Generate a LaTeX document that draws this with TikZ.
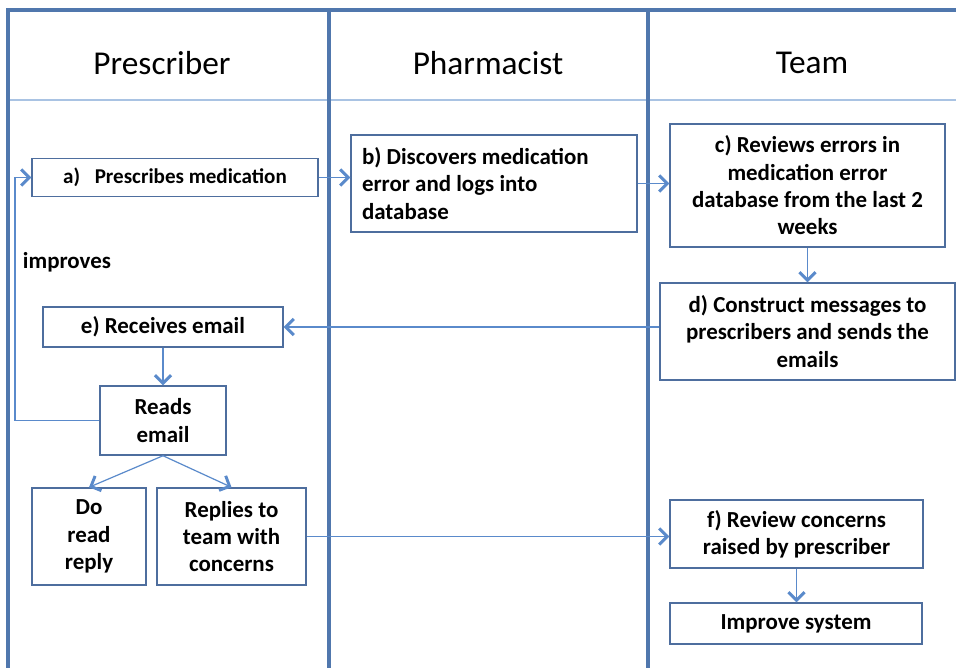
\documentclass[tikz,border=0pt]{standalone}
\usepackage{fontspec}
\setmainfont{Carlito}
\usetikzlibrary{arrows.meta}
\definecolor{lane}{HTML}{5077AD}
\definecolor{sep}{HTML}{A9C3E3}
\definecolor{boxc}{HTML}{4E6E9E}
\definecolor{arr}{HTML}{5A8ACB}
\begin{document}
\begin{tikzpicture}[x=0.75pt,y=-0.75pt,
  box/.style={draw=boxc, line width=1.1pt, fill=white, font=\bfseries\fontsize{17.2}{20.5}\selectfont, align=center, inner sep=0pt},
  hdr/.style={font=\fontsize{25}{30}\selectfont},
  lbl/.style={font=\bfseries\fontsize{17.2}{20.5}\selectfont},
  conn/.style={draw=arr, line width=0.9pt, -{Straight Barb[length=6pt,width=12pt,line width=2.2pt]}},
]
\useasboundingbox (0,0) rectangle (956,668);
\fill[white] (0,0) rectangle (956,668);
% lanes
\draw[sep, line width=1.6pt] (8,100) -- (956,100);
\draw[lane, line width=2.8pt] (956,10) -- (8,10) -- (8,668);
\draw[lane, line width=2.8pt] (329,10) -- (329,668);
\draw[lane, line width=2.8pt] (648,10) -- (648,668);
% headers
\node[hdr] (h1) at (162,63) {Prescriber};
\node[hdr] (h2) at (488,63) {Pharmacist};
\node[hdr] (h3) at (812,63) {Team};
% boxes
\node[box, font=\bfseries\fontsize{15.8}{20}\selectfont, minimum width=286*0.75pt, minimum height=38*0.75pt] (a) at (175,177.5) {a)\hspace{11pt}Prescribes medication};
\node[box, align=flush left, text width=264*0.75pt, inner xsep=11*0.75pt, minimum height=97*0.75pt] (b) at (494,183.5) {b) Discovers medication\\error and logs into\\database};
\node[box, minimum width=275*0.75pt, minimum height=123*0.75pt] (c) at (807.5,185.5) {c) Reviews errors in\\medication error\\database from the last 2\\weeks};
\node[box, minimum width=295*0.75pt, minimum height=97*0.75pt] (d) at (807.5,331.5) {d) Construct messages to\\prescribers and sends the\\emails};
\node[box, minimum width=240*0.75pt, minimum height=40*0.75pt] (e) at (163,327) {e) Receives email};
\node[box, minimum width=126*0.75pt, minimum height=69*0.75pt] (r) at (163,420.5) {Reads\\email};
\node[box, minimum width=114*0.75pt, minimum height=97*0.75pt] (dr) at (89,536.5) {Do\\read\\reply};
\node[box, minimum width=149*0.75pt, minimum height=97*0.75pt] (rep) at (231.5,536.5) {Replies to\\team with\\concerns};
\node[box, minimum width=253*0.75pt, minimum height=68*0.75pt] (f) at (796.5,534) {f) Review concerns\\raised by prescriber};
\node[box, minimum width=252*0.75pt, minimum height=41*0.75pt] (imp) at (796,623.5) {Improve system};
\node[lbl] (impl) at (67,262) {improves};
\coordinate (lp) at (15,0);
% connectors
\draw[conn] (a.east) -- (a.east -| b.west);
\draw[conn] (b.east) -- (b.east -| c.west);
\draw[conn] (c.south) -- (c.south |- d.north);
\draw[conn] (d.west |- e.east) -- (e.east);
\draw[conn] (e.south) -- (r.north);
\draw[conn] (r.south) -- (dr.north);
\draw[conn] (r.south) -- (rep.north);
\draw[conn] (rep.east) -- (rep.east -| f.west);
\draw[conn] (f.south) -- (f.south |- imp.north);
\draw[conn] (r.west) -- (r.west -| lp) -- (a.west -| lp) -- (a.west);
\end{tikzpicture}
\end{document}
